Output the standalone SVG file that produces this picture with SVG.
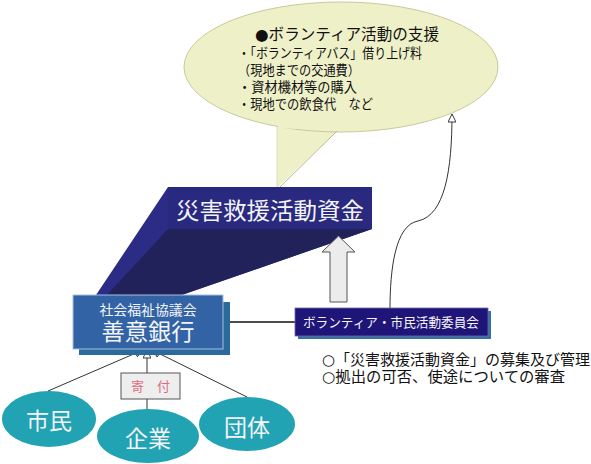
<svg xmlns="http://www.w3.org/2000/svg" width="591" height="464" viewBox="0 0 591 464">
<defs>
<style>
.jp{font-family:"Liberation Sans","Noto Sans CJK JP",sans-serif}
.sym{font-family:"DejaVu Sans","Noto Sans CJK JP",sans-serif}
.wt{fill:#f4f4f8}
.bk{fill:#111}
.teal{fill:#22a3b3}
.ln{stroke:#333;stroke-width:1;fill:none}
</style>
<marker id="hollow" viewBox="0 0 10 10" refX="10" refY="5" markerWidth="9" markerHeight="8" markerUnits="userSpaceOnUse" orient="auto">
<path d="M0,0 L10,5 L0,10 Z" fill="#fff" stroke="#333" stroke-width="1.2"/>
</marker>
</defs>
<rect width="591" height="464" fill="#fff"/>

<g id="callout">
<path d="M277,126 L277,188 L338,130 Z" fill="#eef0c8"/>
<ellipse cx="341" cy="67" rx="157" ry="65" fill="#eef0c8" stroke="#c9c99a" stroke-width="1"/>
<path d="M278,126 L338,129" stroke="#eef0c8" stroke-width="4"/>
<path d="M277,127 L277,187" stroke="#d8d8b0" stroke-width="0.8"/>
<path d="M337,131 L280,187" stroke="#b8b890" stroke-width="1"/>
<text class="jp bk" x="255" y="40" font-size="15.5" textLength="184" lengthAdjust="spacingAndGlyphs"><tspan class="sym">●</tspan>ボランティア活動の支援</text>
<text class="jp bk" x="238" y="58" font-size="13.5" textLength="184" lengthAdjust="spacingAndGlyphs">・「ボランティアバス」借り上げ料</text>
<text class="jp bk" x="238" y="75" font-size="13.5" textLength="122" lengthAdjust="spacingAndGlyphs">（現地までの交通費）</text>
<text class="jp bk" x="238" y="92" font-size="13.5" textLength="119" lengthAdjust="spacingAndGlyphs">・資材機材等の購入</text>
<text class="jp bk" x="238" y="109" font-size="13.5" textLength="135" lengthAdjust="spacingAndGlyphs">・現地での飲食代　など</text>
</g>

<g id="fund">
<polygon points="168,187 372,187 372,229 173,298 94,298" fill="#2c2c86"/>
<polygon points="168,229 372,229 173,298 104,298" fill="#22225a"/>
<rect x="168" y="187" width="204" height="42" fill="#29297f"/>
<text class="jp wt" x="270" y="219" font-size="23" text-anchor="middle" textLength="188" lengthAdjust="spacingAndGlyphs">災害救援活動資金</text>
</g>

<g id="uparrow">
<polygon points="330,302 347,302 347,252 355,252 338.5,236 322,252 330,252" fill="#ececec" stroke="#555" stroke-width="1"/>
</g>

<g id="connectors">
<line x1="223" y1="322" x2="297" y2="322" stroke="#111" stroke-width="1.6"/>
<path class="ln" d="M390,309 C390,270 395,225 418,221 C445,215 452,170 452,114" marker-end="url(#hollow)"/>
<line class="ln" x1="48" y1="391" x2="143" y2="350" marker-end="url(#hollow)"/>
<line class="ln" x1="147" y1="373" x2="147" y2="350" marker-end="url(#hollow)"/>
<line class="ln" x1="147" y1="399" x2="147" y2="410"/>
<line class="ln" x1="247" y1="397" x2="152" y2="350" marker-end="url(#hollow)"/>
</g>

<g id="zenibank">
<rect x="79" y="302" width="151" height="53" fill="#2b6a9c"/>
<rect x="73" y="295" width="150" height="54" fill="#3163a5" stroke="#a8bedc" stroke-width="1"/>
<text class="jp wt" x="148" y="315" font-size="14" text-anchor="middle" textLength="97" lengthAdjust="spacingAndGlyphs">社会福祉協議会</text>
<text class="jp wt" x="148" y="340" font-size="23" text-anchor="middle" textLength="93" lengthAdjust="spacingAndGlyphs">善意銀行</text>
</g>

<g id="committee">
<rect x="298" y="311" width="193" height="28" fill="#3a6e9e"/>
<rect x="295" y="308" width="193" height="28" fill="#1f1478" stroke="#6a6ab0" stroke-width="0.8"/>
<text class="jp wt" x="391" y="327" font-size="13" text-anchor="middle" textLength="176" lengthAdjust="spacingAndGlyphs">ボランティア・市民活動委員会</text>
</g>

<g id="roles">
<text class="jp bk" x="322" y="365" font-size="15" textLength="268" lengthAdjust="spacingAndGlyphs"><tspan class="sym">○</tspan>「災害救援活動資金」の募集及び管理</text>
<text class="jp bk" x="322" y="382" font-size="15" textLength="243" lengthAdjust="spacingAndGlyphs"><tspan class="sym">○</tspan>拠出の可否、使途についての審査</text>
</g>

<g id="donation">
<rect x="121" y="373" width="59" height="26" fill="#eeeeee" stroke="#555" stroke-width="1"/>
<text class="jp" x="150.5" y="391" font-size="13" text-anchor="middle" fill="#e06a78">寄　付</text>
</g>

<g id="citizen">
<ellipse class="teal" cx="49" cy="419" rx="47" ry="28"/>
<text class="jp wt" x="49" y="429" font-size="23" text-anchor="middle">市民</text>
</g>
<g id="company">
<ellipse class="teal" cx="148" cy="436" rx="51" ry="27"/>
<text class="jp wt" x="148" y="447" font-size="23" text-anchor="middle">企業</text>
</g>
<g id="group">
<ellipse class="teal" cx="247" cy="424" rx="48" ry="27"/>
<text class="jp wt" x="247" y="436" font-size="23" text-anchor="middle">団体</text>
</g>
</svg>
